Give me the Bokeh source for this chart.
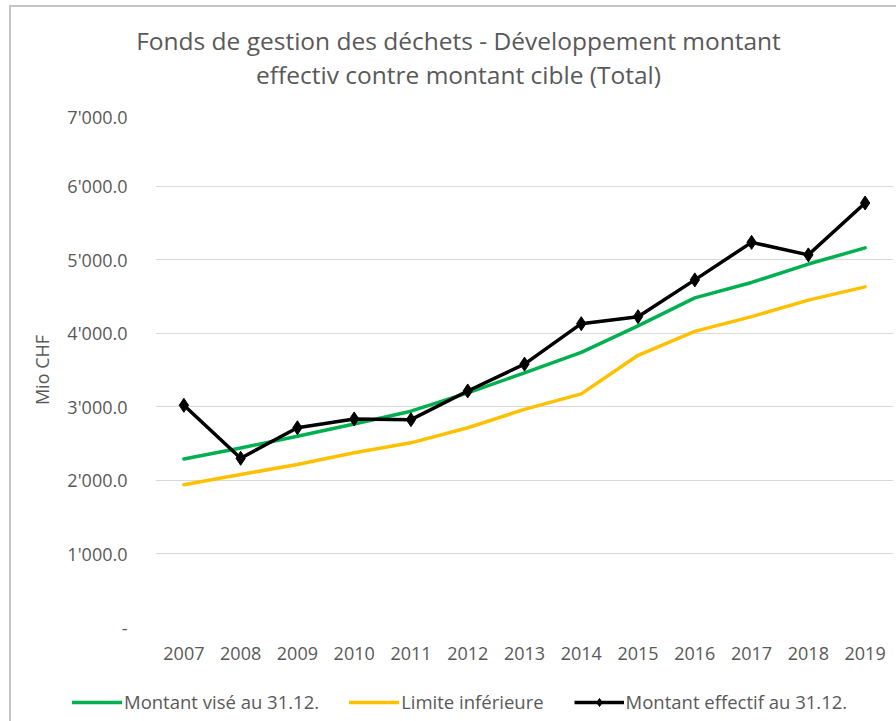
from bokeh.plotting import figure
from bokeh.models import (FactorRange, Range1d, FixedTicker, Legend, LegendItem, Div)
from bokeh.layouts import column
from bokeh.embed import file_html
from bokeh.resources import INLINE

years = ["2007", "2008", "2009", "2010", "2011", "2012", "2013",
         "2014", "2015", "2016", "2017", "2018", "2019"]
montant_vise = [2290, 2440, 2600, 2765, 2940, 3190, 3460, 3740, 4100, 4480, 4690, 4940, 5160]
limite_inf = [1940, 2080, 2215, 2375, 2510, 2715, 2965, 3175, 3700, 4025, 4225, 4450, 4630]
montant_eff = [3020, 2300, 2715, 2835, 2825, 3215, 3580, 4130, 4225, 4725, 5235, 5065, 5770]

y_ticks = [0, 1000, 2000, 3000, 4000, 5000, 6000, 7000]
y_tick_labels = ["-", "1'000.0", "2'000.0", "3'000.0", "4'000.0", "5'000.0", "6'000.0", "7'000.0"]

series_names = ["Montant visé au 31.12.", "Limite inférieure", "Montant effectif au 31.12."]
series_colors = ["#00b050", "#ffc000", "black"]
title_lines = ["Fonds de gestion des déchets - Développement montant",
               "effectiv contre montant cible (Total)"]

FONT = "Open Sans"
GRAY = "#595959"
W = 885

# ---- title ----
title_div = Div(
    text=("<div style=\"width:%dpx; box-sizing:border-box; padding-left:10px; padding-top:17px;"
          " text-align:center; font-family:'Open Sans'; font-size:24.5px; line-height:34px;"
          " color:%s;\">%s<br>%s</div>") % (W, GRAY, title_lines[0], title_lines[1]),
    width=W, height=97, margin=(0, 0, 0, 0))

# ---- main chart ----
p = figure(width=W, height=567, x_range=FactorRange(*years), y_range=Range1d(0, 7000),
           output_backend="svg", toolbar_location=None, margin=(0, 0, 0, 0),
           min_border_left=144, min_border_right=3, min_border_top=8, min_border_bottom=44)
p.frame_align = False
p.outline_line_color = None
p.background_fill_color = "white"
p.border_fill_color = "white"

p.xgrid.grid_line_color = None
p.ygrid.grid_line_color = "#d9d9d9"
p.ygrid.grid_line_width = 1
p.yaxis.ticker = FixedTicker(ticks=y_ticks)
p.yaxis.major_label_overrides = {v: s for v, s in zip(y_ticks, y_tick_labels)}

for ax in (p.xaxis, p.yaxis):
    ax.axis_line_color = None
    ax.major_tick_line_color = None
    ax.minor_tick_line_color = None
    ax.major_label_text_font = FONT
    ax.major_label_text_font_size = "18px"
    ax.major_label_text_color = GRAY

p.yaxis.major_label_standoff = 22
p.xaxis.major_label_standoff = 13
p.yaxis.axis_label = "Mio CHF"
p.yaxis.axis_label_text_font = FONT
p.yaxis.axis_label_text_font_size = "18px"
p.yaxis.axis_label_text_color = GRAY
p.yaxis.axis_label_text_font_style = "normal"
p.yaxis.axis_label_standoff = 10

p.line(years, montant_vise, line_color=series_colors[0], line_width=3.5,
       line_cap="round", line_join="round")
p.line(years, limite_inf, line_color=series_colors[1], line_width=3.5,
       line_cap="round", line_join="round")
p.line(years, montant_eff, line_color=series_colors[2], line_width=3.5, line_join="round")
p.scatter(years, montant_eff, marker="diamond", size=14,
          fill_color=series_colors[2], line_color=series_colors[2])

# ---- legend strip: same series, drawn outside its (empty) visible range ----
lg = figure(width=W, height=50, x_range=FactorRange(*years), y_range=Range1d(-2, -1),
            output_backend="svg", toolbar_location=None, margin=(0, 0, 0, 0),
            min_border_left=0, min_border_right=0, min_border_top=0, min_border_bottom=0)
lg.frame_align = False
lg.axis.visible = False
lg.grid.visible = False
lg.outline_line_color = None
lg.border_fill_color = "white"
e1 = lg.line(years, montant_vise, line_color=series_colors[0], line_width=3.5, line_cap="round")
e2 = lg.line(years, limite_inf, line_color=series_colors[1], line_width=3.5, line_cap="round")
e3 = lg.line(years, montant_eff, line_color=series_colors[2], line_width=3.5)
e4 = lg.scatter(years, montant_eff, marker="diamond", size=11,
                fill_color=series_colors[2], line_color=series_colors[2])

legend = Legend(items=[LegendItem(label=series_names[0], renderers=[e1]),
                       LegendItem(label=series_names[1], renderers=[e2]),
                       LegendItem(label=series_names[2], renderers=[e3, e4])],
                orientation="horizontal", location=(61, 7), padding=0, margin=0,
                spacing=30, glyph_width=50, glyph_height=20, label_standoff=2,
                label_text_font=FONT, label_text_font_size="18.5px", label_text_color=GRAY,
                border_line_color=None, background_fill_alpha=0)
lg.add_layout(legend)

layout = column(title_div, p, lg, spacing=0)
layout.styles = {"margin-left": "9px", "margin-top": "5px", "background-color": "white",
                 "border-left": "2px solid #c4c4c4", "border-top": "2px solid #c4c4c4"}

open("out.html", "w").write(file_html(layout, INLINE))
